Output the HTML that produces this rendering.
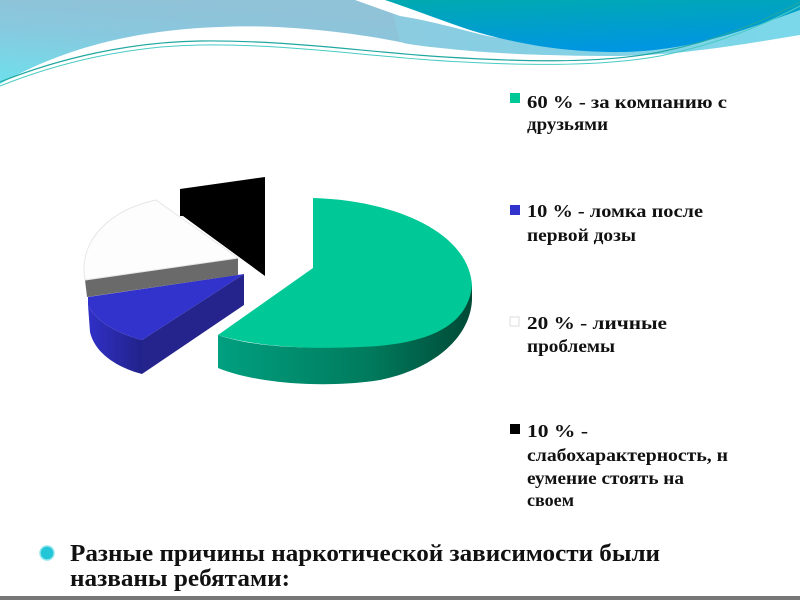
<!DOCTYPE html>
<html><head><meta charset="utf-8"><style>
html,body{margin:0;padding:0;background:#fff;}
svg{display:block;}
text{font-family:"Liberation Serif","DejaVu Serif",serif;font-weight:bold;fill:#111;}
</style></head><body>
<svg width="800" height="600" viewBox="0 0 800 600" xmlns="http://www.w3.org/2000/svg">
<defs>
<linearGradient id="lb" x1="0" y1="1" x2="0.4" y2="0">
<stop offset="0" stop-color="#6ee0ec"/><stop offset="0.6" stop-color="#88c8de"/><stop offset="1" stop-color="#90c2d8"/></linearGradient>
<linearGradient id="lb2" x1="0" y1="0" x2="1" y2="0">
<stop offset="0" stop-color="#8ccbe0"/><stop offset="1" stop-color="#7ad8ea"/></linearGradient>
<linearGradient id="dk" x1="0" y1="0" x2="0.3" y2="1">
<stop offset="0" stop-color="#00aab0"/><stop offset="1" stop-color="#0096e0"/></linearGradient>
<linearGradient id="gs" x1="0" y1="0" x2="1" y2="0">
<stop offset="0" stop-color="#00a080"/><stop offset="0.6" stop-color="#007a5c"/><stop offset="1" stop-color="#004a36"/></linearGradient>
<linearGradient id="bs" x1="0" y1="0" x2="1" y2="0">
<stop offset="0" stop-color="#3030c8"/><stop offset="1" stop-color="#22228a"/></linearGradient>
</defs>
<!-- background waves -->
<path d="M0,0 H400 V42 C350,32 280,24 220,27 C130,30 60,50 0,84 Z" fill="url(#lb)"/>
<path d="M390,0 H800 V35 C740,45 680,55 620,56 C560,56 500,54 460,50 C430,47 410,45 400,42 Z" fill="url(#lb2)"/>
<path d="M355,0 H390 L400,5 C430,15 460,25 500,38 C480,36 440,22 400,16 Z" fill="#fff"/>
<path d="M385,0 H800 V10 C740,32 690,50 625,52 C560,53 510,42 470,30 C440,20 415,10 385,0 Z" fill="url(#dk)"/>
<path d="M0,82 C60,58 130,42 200,41 C280,40 350,50 430,56 C520,62 600,64 660,52 C720,40 770,18 800,2" fill="none" stroke="#20a8a0" stroke-width="1.2"/>
<path d="M0,86 C60,62 130,46 200,45 C280,44 350,54 430,60 C520,66 600,67 660,56 C720,44 770,22 800,6" fill="none" stroke="#49cbc4" stroke-width="1"/>

<!-- pie -->
<path d="M218,335 L218,368 C260,385 330,388 380,380 C430,370 470,340 472,300 L472,285 C460,320 420,342 360,346 C300,350 250,346 218,335 Z" fill="url(#gs)"/>
<path d="M313,198 C390,200 468,230 472,285 C468,330 420,345 360,347 C300,350 250,345 218,335 L313,268 Z" fill="#00c896"/>
<!-- blue -->
<path d="M142,374 L244,305 L244,274 L142,340 Z" fill="#24248c"/>
<path d="M88,297 L244,274 L142,340 C115,333 95,320 88,305 Z" fill="#3232cc"/>
<path d="M88,305 C95,320 115,333 142,340 L142,374 C112,366 94,350 90,332 Z" fill="url(#bs)"/>
<!-- gray -->
<path d="M85,280 L238,258 L238,275 L87,297 Z" fill="#6a6a6a"/>
<!-- white -->
<path d="M85,280 C78,240 110,210 156,200 L238,258 Z" fill="#fdfdfd" stroke="#e6e6e6" stroke-width="1"/>
<!-- black -->
<path d="M180,189 L265,177 L265,276 L183,216 L180,216 Z" fill="#000"/>

<!-- legend -->
<rect x="510" y="93" width="10" height="10" fill="#00c896"/>
<text x="527" y="108" font-size="18" textLength="200" lengthAdjust="spacingAndGlyphs">60 %  - за компанию с</text>
<text x="527" y="130" font-size="18" textLength="81" lengthAdjust="spacingAndGlyphs">друзьями</text>
<rect x="510" y="205" width="10" height="10" fill="#3232cc"/>
<text x="527" y="217" font-size="18" textLength="176" lengthAdjust="spacingAndGlyphs">10 %  - ломка после</text>
<text x="527" y="241" font-size="18" textLength="109" lengthAdjust="spacingAndGlyphs">первой дозы</text>
<rect x="510" y="317" width="9" height="9" fill="#fff" stroke="#ddd" stroke-width="1"/>
<text x="527" y="329" font-size="18" textLength="140" lengthAdjust="spacingAndGlyphs">20 %  - личные</text>
<text x="527" y="352" font-size="18" textLength="88" lengthAdjust="spacingAndGlyphs">проблемы</text>
<rect x="510" y="424" width="10" height="10" fill="#000"/>
<text x="527" y="437" font-size="18" textLength="61" lengthAdjust="spacingAndGlyphs">10 %  -</text>
<text x="527" y="461" font-size="18" textLength="201" lengthAdjust="spacingAndGlyphs">слабохарактерность, н</text>
<text x="527" y="484" font-size="18" textLength="157" lengthAdjust="spacingAndGlyphs">еумение стоять на</text>
<text x="527" y="506" font-size="18" textLength="47" lengthAdjust="spacingAndGlyphs">своем</text>

<!-- bottom -->
<circle cx="47" cy="553" r="7" fill="#22c6d6" stroke="#8fe6ee" stroke-width="1.5"/>
<text x="70" y="561" font-size="24" textLength="590" lengthAdjust="spacingAndGlyphs">Разные причины наркотической зависимости были</text>
<text x="70" y="586" font-size="24" textLength="220" lengthAdjust="spacingAndGlyphs">названы ребятами:</text>
<rect x="0" y="596" width="800" height="4" fill="#777"/>
</svg>
</body></html>
